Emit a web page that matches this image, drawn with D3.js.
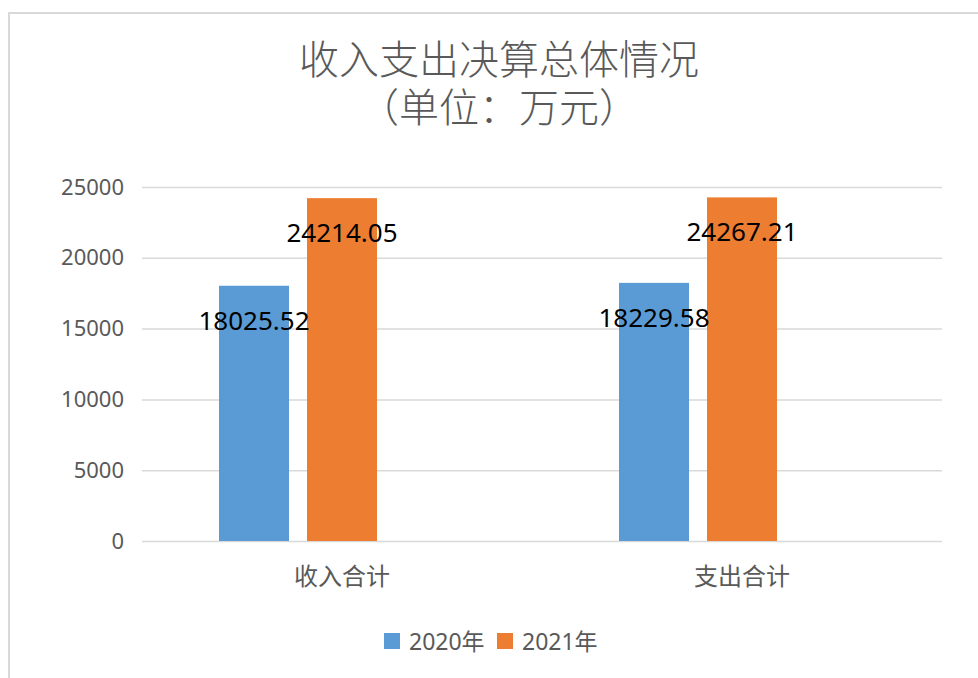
<!DOCTYPE html>
<html>
<head>
<meta charset="utf-8">
<script src="https://cdn.jsdelivr.net/npm/d3@7"></script>
<style>
  body { margin: 0; background: #fff; }
  svg { display: block; }
  text { font-family: "Noto Sans", "Noto Sans CJK SC", sans-serif; }
</style>
</head>
<body>
<div class="chart"></div>
<script>
// data
var categories = ["收入合计", "支出合计"];
var seriesNames = ["2020年", "2021年"];
var values2020 = [18025.52, 18229.58];
var values2021 = [24214.05, 24267.21];
var yTicks = [0, 5000, 10000, 15000, 20000, 25000];
var titleLines = ["收入支出决算总体情况", "（单位：万元）"];

var colors = ["#5b9bd5", "#ed7d31"];
var textColor = "#595959";
var gridColor = "#d9d9d9";

var W = 978, H = 678;
var margin = { top: 187, right: 36, bottom: 137, left: 142 };
var width = W - margin.left - margin.right;   // 800
var height = H - margin.top - margin.bottom;  // 354

var svg = d3.select(".chart")
  .append("svg")
    .attr("width", W)
    .attr("height", H);

// chart frame (runs off the right / bottom edge like the original)
svg.append("rect")
    .attr("x", 9).attr("y", 13)
    .attr("width", W + 20).attr("height", H + 20)
    .attr("fill", "#fff")
    .attr("stroke", gridColor)
    .attr("stroke-width", 2);

// title, two lines in one text element
var title = svg.append("text")
    .attr("text-anchor", "middle")
    .style("font-family", '"Noto Sans CJK SC", sans-serif')
    .style("font-weight", 300)
    .style("font-size", "40px")
    .style("fill", textColor);
title.selectAll("tspan")
  .data(titleLines)
  .enter().append("tspan")
    .attr("x", 499)
    .attr("y", function(d, i) { return 74 + i * 48; })
    .text(function(d) { return d; });

var g = svg.append("g")
    .attr("transform", "translate(" + margin.left + "," + margin.top + ")");

var x0 = d3.scaleBand()
    .domain(categories)
    .range([0, width])
    .padding(0);

// three slots per cluster, as in the source chart (third one left empty)
var x1 = d3.scaleBand()
    .domain([0, 1, 2])
    .range([77, x0.bandwidth() - 77])
    .paddingInner(18 / 88)
    .paddingOuter(0);

var y = d3.scaleLinear()
    .domain([0, 25000])
    .range([height, 0]);

// gridlines + y labels
var yAxis = g.append("g")
    .attr("class", "axisY")
    .call(d3.axisLeft(y).tickValues(yTicks).tickFormat(d3.format("d"))
      .tickSize(-width).tickPadding(18));
yAxis.select(".domain").remove();
yAxis.selectAll("line")
    .style("stroke", gridColor)
    .style("stroke-width", 1.5);
yAxis.selectAll("text")
    .style("fill", textColor)
    .style("font-size", "22px");

// category labels
g.append("g").selectAll("text")
  .data(categories)
  .enter().append("text")
    .attr("x", function(d) { return x0(d) + x0.bandwidth() / 2; })
    .attr("y", height + 33)
    .attr("text-anchor", "middle")
    .attr("dominant-baseline", "central")
    .style("font-family", '"Noto Sans CJK SC", sans-serif')
    .style("font-size", "24px")
    .style("fill", textColor)
    .text(function(d) { return d; });

var seriesValues = [values2020, values2021];
var bars = [];
seriesValues.forEach(function(vals, s) {
  vals.forEach(function(v, c) {
    bars.push({ cat: categories[c], s: s, value: v });
  });
});

g.selectAll(".bar")
  .data(bars)
  .enter().append("rect")
    .attr("class", "bar")
    .attr("x", function(d) { return x0(d.cat) + x1(d.s); })
    .attr("width", x1.bandwidth())
    .attr("y", function(d) { return y(d.value); })
    .attr("height", function(d) { return height - y(d.value); })
    .attr("fill", function(d) { return colors[d.s]; });

// data labels, inside end
g.selectAll(".label")
  .data(bars)
  .enter().append("text")
    .attr("class", "label")
    .attr("x", function(d) { return x0(d.cat) + x1(d.s) + x1.bandwidth() / 2; })
    .attr("y", function(d) { return y(d.value) + 44; })
    .attr("text-anchor", "middle")
    .style("font-size", "26px")
    .style("fill", "#000")
    .text(function(d) { return d3.format(".2f")(d.value); });

// legend
var legend = svg.append("g").attr("transform", "translate(384,641)");
var legendX = [0, 113];
var item = legend.selectAll(".item")
  .data(seriesNames)
  .enter().append("g")
    .attr("class", "item")
    .attr("transform", function(d, i) { return "translate(" + legendX[i] + ",0)"; });
item.append("rect")
    .attr("x", 0).attr("y", -8)
    .attr("width", 16).attr("height", 16)
    .attr("fill", function(d, i) { return colors[i]; });
item.append("text")
    .attr("x", 25)
    .attr("y", 0)
    .attr("dominant-baseline", "central")
    .style("font-size", "23px")
    .style("fill", textColor)
    .text(function(d) { return d; });
</script>
</body>
</html>
